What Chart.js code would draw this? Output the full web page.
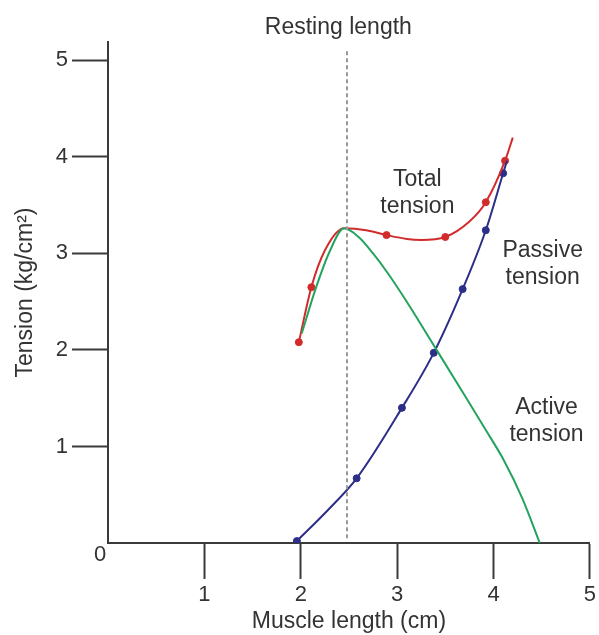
<!DOCTYPE html>
<html>
<head>
<meta charset="utf-8">
<script src="https://cdn.jsdelivr.net/npm/chart.js@4/dist/chart.umd.min.js"></script>
<style>
  body { margin: 0; background: #fff; }
  canvas { display: block; }
</style>
</head>
<body>
<canvas id="chart" width="599" height="635"></canvas>
<script>
// ---------- DATA ----------
const xTicks = [1, 2, 3, 4, 5];
const yTicks = [1, 2, 3, 4, 5];

// smooth curves (muscle length cm, tension kg/cm2)
const totalCurveX = [1.98, 2.11, 2.25, 2.45, 2.68, 2.89, 3.1, 3.25, 3.5, 3.75, 3.92, 4.12, 4.2];
const totalCurveY = [2.08, 2.65, 3.03, 3.26, 3.24, 3.19, 3.15, 3.14, 3.17, 3.33, 3.53, 3.96, 4.2];

const activeCurveX = [2.01, 2.16, 2.3, 2.45, 2.6, 2.75, 2.9, 3.1, 3.41, 3.7, 3.92, 4.1, 4.3, 4.48];
const activeCurveY = [2.17, 2.65, 3.02, 3.26, 3.17, 3.0, 2.8, 2.5, 2.0, 1.53, 1.17, 0.87, 0.46, 0];

const passiveCurveX = [1.96, 2.29, 2.58, 3.05, 3.38, 3.68, 3.92, 4.1, 4.14];
const passiveCurveY = [0.02, 0.35, 0.67, 1.40, 1.97, 2.63, 3.24, 3.83, 3.96];

// measured points
const totalPointsX = [1.98, 2.11, 2.89, 3.5, 3.92, 4.12];
const totalPointsY = [2.08, 2.65, 3.19, 3.17, 3.53, 3.96];

const passivePointsX = [1.96, 2.58, 3.05, 3.38, 3.68, 3.92, 4.1];
const passivePointsY = [0.02, 0.67, 1.40, 1.97, 2.63, 3.24, 3.83];

const restingLength = 2.48;

/* ---------- HELPERS ---------- */

function pts(xs, ys) {
  return xs.map((x, i) => ({ x, y: ys[i] }));
}

const RED = "#d22b2b";
const GREEN = "#23a35f";
const BLUE = "#2c2e88";
const INK = "#333";
const FONT = "'Liberation Sans', Arial, sans-serif";

Chart.defaults.font.family = FONT;
Chart.defaults.color = INK;

/* ---------- PLUGIN: TEXT LABELS ---------- */

const curveLabels = {
  id: "curveLabels",
  afterDraw(chart) {
    const { ctx, scales: { x, y } } = chart;
    ctx.save();
    ctx.fillStyle = INK;
    ctx.font = "23px " + FONT;
    ctx.textAlign = "center";
    ctx.textBaseline = "middle";

    const put = (lines, vx, vy) => {
      const px = x.getPixelForValue(vx);
      let py = y.getPixelForValue(vy);
      lines.forEach(t => { ctx.fillText(t, px, py); py += 27; });
    };
    put(["Total", "tension"], 3.21, 3.76);
    put(["Passive", "tension"], 4.51, 3.03);
    put(["Active", "tension"], 4.55, 1.4);

    ctx.fillText("Resting length", x.getPixelForValue(2.39), chart.chartArea.top - 14);

    // origin label
    ctx.font = "22px " + FONT;
    ctx.fillText("0", x.getPixelForValue(0) - 8, y.getPixelForValue(0) + 12);
    ctx.restore();
  }
};

/* ---------- CHART ---------- */

const axisStyle = {
  border: { display: true, color: "#3a3a3a", width: 2 },
  grid: { drawOnChartArea: false, drawTicks: true, tickLength: 36, tickColor: "#3a3a3a", tickWidth: 2 }
};

new Chart(document.getElementById("chart"), {
  type: "scatter",
  data: {
    datasets: [
      {
        label: "Resting length",
        data: [{ x: restingLength, y: 0.05 }, { x: restingLength, y: 5.1 }],
        showLine: true,
        borderColor: "#999",
        borderWidth: 2,
        borderDash: [4, 3],
        pointRadius: 0
      },
      {
        label: "Active tension",
        data: pts(activeCurveX, activeCurveY),
        showLine: true,
        cubicInterpolationMode: "monotone",
        borderColor: GREEN,
        borderWidth: 2,
        pointRadius: 0
      },
      {
        label: "Passive tension",
        data: pts(passiveCurveX, passiveCurveY),
        showLine: true,
        cubicInterpolationMode: "monotone",
        borderColor: BLUE,
        borderWidth: 2,
        pointRadius: 0
      },
      {
        label: "Total tension",
        data: pts(totalCurveX, totalCurveY),
        showLine: true,
        cubicInterpolationMode: "monotone",
        borderColor: RED,
        borderWidth: 2,
        pointRadius: 0
      },
      {
        label: "Passive points",
        data: pts(passivePointsX, passivePointsY),
        backgroundColor: BLUE,
        borderColor: BLUE,
        pointRadius: 3.5
      },
      {
        label: "Total points",
        data: pts(totalPointsX, totalPointsY),
        backgroundColor: RED,
        borderColor: RED,
        pointRadius: 3.5
      }
    ]
  },
  options: {
    responsive: false,
    animation: false,
    layout: { padding: { top: 42, right: 7, left: 0, bottom: 0 } },
    plugins: {
      legend: { display: false },
      tooltip: { enabled: false }
    },
    scales: {
      x: {
        type: "linear",
        min: 0,
        max: 5,
        ...axisStyle,
        afterBuildTicks(scale) { scale.ticks = xTicks.map(v => ({ value: v })); },
        afterFit(scale) { scale.height = 92; },
        ticks: { padding: 3, font: { size: 22 }, color: INK },
        title: {
          display: true,
          text: "Muscle length (cm)",
          font: { size: 23 },
          color: INK,
          padding: { top: 0, bottom: 0 }
        }
      },
      y: {
        type: "linear",
        min: 0,
        max: 5.19,
        ...axisStyle,
        afterBuildTicks(scale) { scale.ticks = yTicks.map(v => ({ value: v })); },
        afterFit(scale) { scale.width = 108; },
        ticks: { padding: 4, font: { size: 22 }, color: INK },
        title: {
          display: true,
          text: "Tension (kg/cm²)",
          font: { size: 23 },
          color: INK,
          padding: { top: 12, bottom: 0 }
        }
      }
    }
  },
  plugins: [curveLabels]
});
</script>
</body>
</html>
